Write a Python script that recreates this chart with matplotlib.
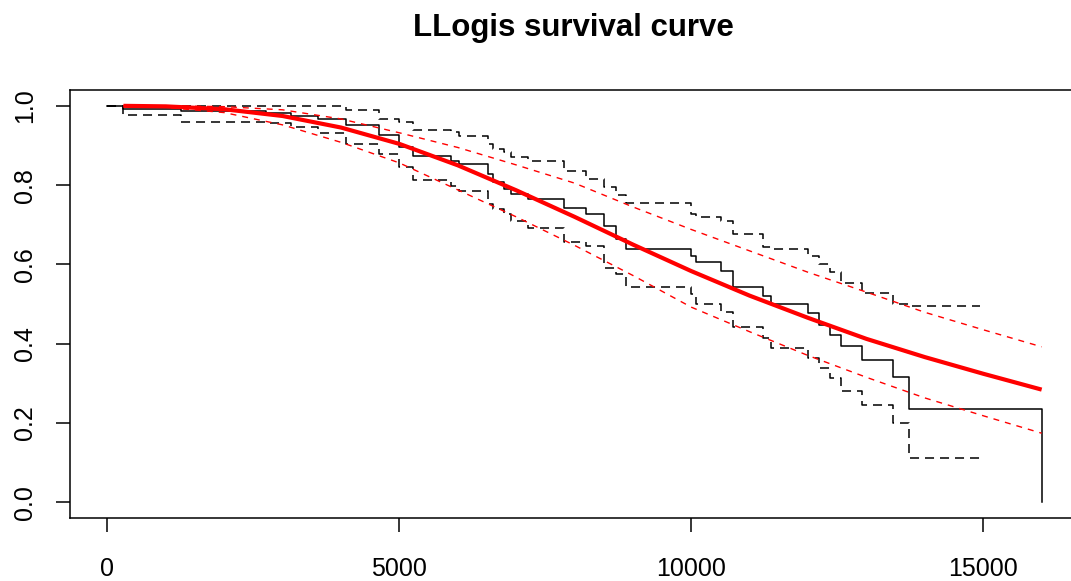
import numpy as np
import matplotlib
matplotlib.use("Agg")
import matplotlib.pyplot as plt

plt.rcParams['font.family'] = ['Liberation Sans', 'DejaVu Sans']
plt.rcParams['lines.scale_dashes'] = False

# Kaplan-Meier estimate (step times and survival after each step)
km_time = [0, 274, 1266, 2720, 3147, 3609, 4088, 4653, 4995, 5234, 5884, 6021,
           6517, 6603, 6791, 6910, 7201, 7817, 8193, 8501, 8706, 8877, 9989,
           10075, 10502, 10708, 11221, 11358, 11991, 12179, 12367, 12555,
           12931, 13462, 13735, 16000]
km_surv = [1.0, 0.992, 0.986, 0.981, 0.975, 0.967, 0.952, 0.927, 0.896, 0.874,
           0.862, 0.853, 0.828, 0.808, 0.790, 0.777, 0.765, 0.742, 0.727, 0.697,
           0.663, 0.638, 0.621, 0.605, 0.583, 0.542, 0.520, 0.499, 0.478, 0.448,
           0.423, 0.393, 0.359, 0.316, 0.235, 0.0]
# KM confidence band, defined up to the last censored time
km_upper = [1.0, 1.0, 1.0, 1.0, 1.0, 1.0, 0.990, 0.967, 0.959, 0.939, 0.934,
            0.924, 0.904, 0.891, 0.884, 0.871, 0.861, 0.835, 0.815, 0.795,
            0.775, 0.754, 0.727, 0.719, 0.709, 0.676, 0.643, 0.638, 0.620,
            0.600, 0.580, 0.554, 0.529, 0.501, 0.494]
km_lower = [1.0, 0.976, 0.959, 0.957, 0.946, 0.932, 0.904, 0.878, 0.846,
            0.813, 0.797, 0.785, 0.752, 0.739, 0.727, 0.709, 0.691, 0.656,
            0.646, 0.592, 0.575, 0.542, 0.524, 0.501, 0.481, 0.441, 0.415,
            0.390, 0.365, 0.339, 0.314, 0.281, 0.246, 0.200, 0.111]
ci_end = 14950

# log-logistic fit with its confidence band
fit_time = [274, 1000, 2000, 3000, 4000, 5000, 6000, 7000, 8000, 9000, 10000,
            11000, 12000, 13000, 14000, 15000, 16000]
fit_surv = [1.0, 0.9987, 0.9915, 0.9744, 0.9453, 0.904, 0.850, 0.787, 0.720,
            0.650, 0.583, 0.521, 0.465, 0.412, 0.366, 0.324, 0.284]
fit_upper = [1.0, 1.0, 0.998, 0.990, 0.967, 0.932, 0.895, 0.851, 0.805, 0.745,
             0.688, 0.634, 0.580, 0.530, 0.479, 0.435, 0.392]
fit_lower = [1.0, 0.996, 0.983, 0.952, 0.908, 0.856, 0.788, 0.720, 0.648,
             0.572, 0.492, 0.430, 0.370, 0.315, 0.263, 0.218, 0.174]

fig = plt.figure(figsize=(10.71, 5.81), dpi=100)
ax = fig.add_axes([0.0654, 0.1084, 0.9421, 0.7367])

ax.step(km_time, km_surv, where='post', color='black', lw=1.1)
ci_t = km_time[:len(km_upper)] + [ci_end]
ax.step(ci_t, km_upper + [km_upper[-1]], where='post', color='black', lw=1.1,
        dashes=(6.5, 4.3))
ax.step(ci_t, km_lower + [km_lower[-1]], where='post', color='black', lw=1.1,
        dashes=(6.5, 4.3))

ax.plot(fit_time, fit_surv, color='red', lw=3.0, solid_capstyle='butt',
        solid_joinstyle='round')
ax.plot(fit_time, fit_upper, color='red', lw=1.0, dashes=(4.3, 4.3))
ax.plot(fit_time, fit_lower, color='red', lw=1.0, dashes=(4.3, 4.3))

tmax = max(km_time)
ax.set_xlim(-0.04 * tmax, 1.04 * tmax)
ax.set_ylim(-0.04, 1.04)
ax.set_xticks([0, 5000, 10000, 15000])
ax.set_xticklabels(['0', '5000', '10000', '15000'])
ax.set_yticks([0.0, 0.2, 0.4, 0.6, 0.8, 1.0])
ax.set_yticklabels(['0.0', '0.2', '0.4', '0.6', '0.8', '1.0'])
ax.tick_params(length=10, width=1.1, labelsize=18)
ax.tick_params(axis='x', pad=18)
ax.tick_params(axis='y', pad=14)
plt.setp(ax.get_yticklabels(), rotation=90, va='center')
for s in ax.spines.values():
    s.set_linewidth(1.1)

fig.text(0.535, 0.952, 'LLogis survival curve', ha='center', va='center',
         fontsize=22.5, fontweight='bold')

fig.savefig('out.png', dpi=100)
